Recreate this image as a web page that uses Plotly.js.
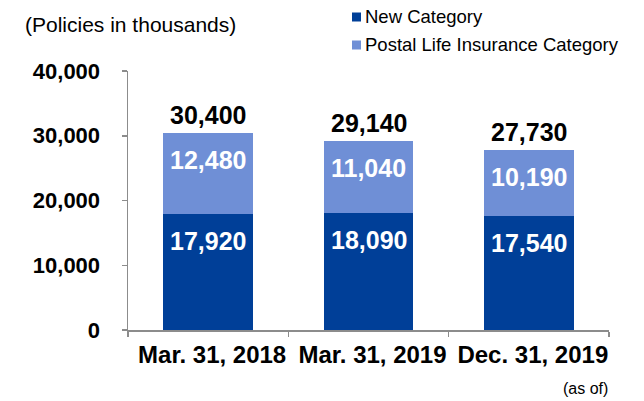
<!DOCTYPE html>
<html><head><meta charset="utf-8">
<script src="https://cdn.plot.ly/plotly-3.0.1.min.js"></script>
<style>html,body{margin:0;padding:0;background:#fff}#chart{width:644px;height:401px}</style>
</head><body><div id="chart"></div>
<script>
const categories = ["Mar. 31, 2018", "Mar. 31, 2019", "Dec. 31, 2019"];
const newCategory = [17920, 18090, 17540];
const postalCategory = [12480, 11040, 10190];
const totals = [30400, 29140, 27730];
const seriesNames = ["New Category", "Postal Life Insurance Category"];

const darkBlue = "#003f98";
const lightBlue = "#6f8fd6";
const colors = [darkBlue, lightBlue];
const font = "Arial, 'Liberation Sans', sans-serif";
const fmt = v => v.toLocaleString("en-US");

const traces = [
  {type: "bar", x: categories, y: newCategory, name: seriesNames[0],
   marker: {color: darkBlue}, hoverinfo: "none"},
  {type: "bar", x: categories, y: postalCategory, name: seriesNames[1],
   marker: {color: lightBlue}, hoverinfo: "none"}
];

// plot area in pixels: x 128..609, y 71..330
const L = 128, R = 609, T = 71, B = 330;
const px = x => (x - L) / (R - L);
const py = y => (B - y) / (B - T);

const annotations = [];
categories.forEach((c, i) => {
  annotations.push({x: c, y: newCategory[i], yanchor: "top", yshift: -11, showarrow: false,
    text: "<b>" + fmt(newCategory[i]) + "</b>", font: {family: font, size: 25, color: "#fff"}});
  annotations.push({x: c, y: newCategory[i] + postalCategory[i], yanchor: "top", yshift: -11, showarrow: false,
    text: "<b>" + fmt(postalCategory[i]) + "</b>", font: {family: font, size: 25, color: "#fff"}});
  annotations.push({x: c, y: totals[i], yanchor: "bottom", yshift: 2, showarrow: false,
    text: "<b>" + fmt(totals[i]) + "</b>", font: {family: font, size: 25, color: "#000"}});
});
annotations.push({xref: "paper", yref: "paper", x: px(23), y: py(25), xanchor: "left", yanchor: "middle",
  showarrow: false, text: "(Policies in thousands)", font: {family: font, size: 21, color: "#000"}});
annotations.push({xref: "paper", yref: "paper", x: px(610), y: py(388), xanchor: "right", yanchor: "middle",
  showarrow: false, text: "(as of)", font: {family: font, size: 16, color: "#000"}});

// legend drawn manually
const shapes = [];
const legendRows = [17, 45];
seriesNames.forEach((n, i) => {
  const cy = legendRows[i];
  shapes.push({type: "rect", xref: "paper", yref: "paper", x0: px(352), x1: px(361),
    y0: py(cy + 4.5), y1: py(cy - 4.5), fillcolor: colors[i], line: {width: 0}});
  annotations.push({xref: "paper", yref: "paper", x: px(363), y: py(cy), xanchor: "left", yanchor: "middle",
    showarrow: false, text: n, font: {family: font, size: 18.5, color: "#000"}});
});

const layout = {
  width: 644, height: 401,
  margin: {l: L, r: 644 - R, t: T, b: 401 - B, autoexpand: false},
  paper_bgcolor: "#fff", plot_bgcolor: "#fff",
  barmode: "stack", bargap: 0.44,
  showlegend: false,
  xaxis: {type: "category", showline: true, linecolor: "#8c8c8c", linewidth: 1.5,
    ticks: "outside", tickson: "boundaries", ticklen: 5, tickcolor: "#8c8c8c", tickwidth: 1.5,
    tickfont: {family: font, size: 24, color: "#000", weight: "bold"}, showgrid: false,
    ticklabelstandoff: 3, ticklabelshift: 4},
  yaxis: {range: [0, 40000], dtick: 10000, tickformat: ",d", showline: true, linecolor: "#8c8c8c",
    linewidth: 1.5, ticks: "outside", ticklen: 5, tickcolor: "#8c8c8c", tickwidth: 1.5,
    showgrid: false, zeroline: false,
    tickfont: {family: font, size: 22, color: "#000", weight: "bold"}, ticklabelstandoff: 17},
  shapes: shapes,
  annotations: annotations
};

Plotly.newPlot("chart", traces, layout, {displayModeBar: false, staticPlot: true});
</script></body></html>
